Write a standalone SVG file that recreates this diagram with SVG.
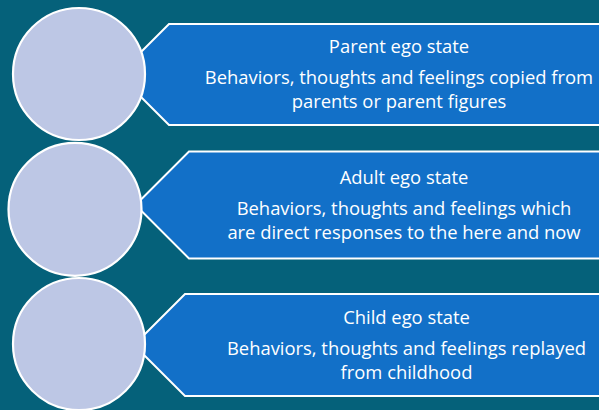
<svg xmlns="http://www.w3.org/2000/svg" width="599" height="410" viewBox="0 0 599 410">
  <style>
    .bg { fill: #05617A; }
    .box { fill: #1270C8; stroke: #FFFFFF; stroke-width: 2; }
    .circ { fill: #BDC7E5; stroke: #FFFFFF; stroke-width: 2.2; }
    .t { font-family: "Open Sans", "Liberation Sans", sans-serif; font-size: 18.4px; fill: #FFFFFF; text-anchor: middle; }
  </style>
  <rect class="bg" x="0" y="0" width="599" height="410"/>

  <g id="parent">
    <polygon class="box" points="118.5,74.5 169,24 602,24 602,125 169,125"/>
    <circle class="circ" cx="79" cy="74" r="66"/>
    <text class="t" x="399" y="53.3">Parent ego state</text>
    <text class="t" x="399" y="84.3">Behaviors, thoughts and feelings copied from</text>
    <text class="t" x="399" y="107.7">parents or parent figures</text>
  </g>

  <g id="adult">
    <polygon class="box" points="135.5,205 189,151.5 602,151.5 602,258.5 189,258.5"/>
    <circle class="circ" cx="75" cy="209.3" r="66.5"/>
    <text class="t" x="404" y="183.5">Adult ego state</text>
    <text class="t" x="404" y="215">Behaviors, thoughts and feelings which</text>
    <text class="t" x="404" y="238.5">are direct responses to the here and now</text>
  </g>

  <g id="child">
    <polygon class="box" points="134,345 185,294 602,294 602,396 185,396"/>
    <circle class="circ" cx="79" cy="344" r="66"/>
    <text class="t" x="406.5" y="323.5">Child ego state</text>
    <text class="t" x="406.5" y="355">Behaviors, thoughts and feelings replayed</text>
    <text class="t" x="406.5" y="378.5">from childhood</text>
  </g>
</svg>
